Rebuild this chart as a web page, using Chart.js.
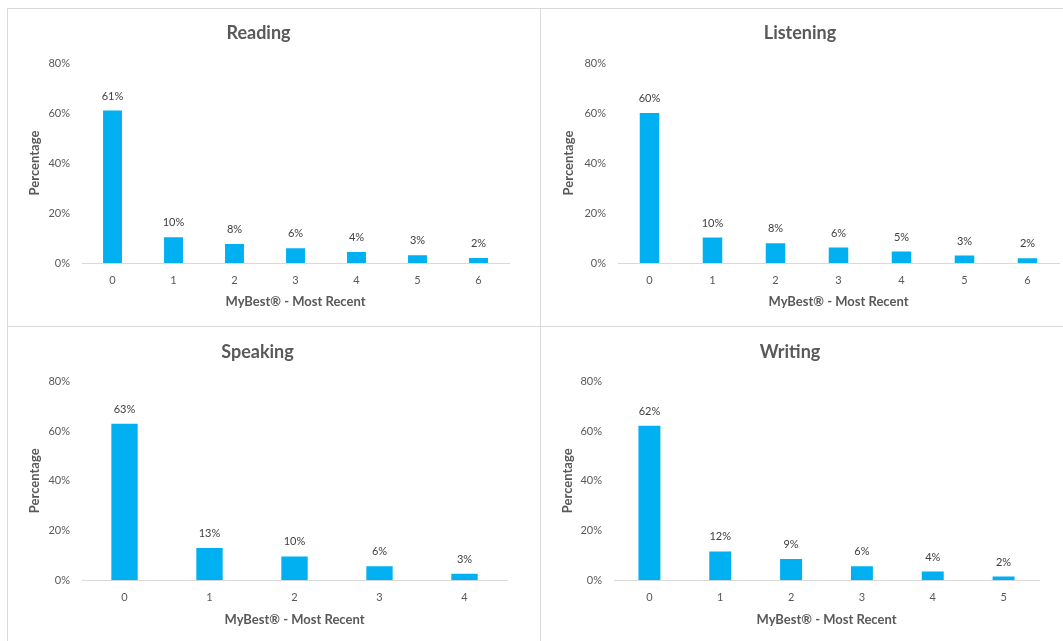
<!DOCTYPE html>
<html>
<head>
<meta charset="utf-8">
<script src="https://cdn.jsdelivr.net/npm/chart.js@4"></script>
<style>
  html, body { margin: 0; padding: 0; background: #fff; width: 1063px; height: 641px; overflow: hidden; }
  .panel { position: absolute; box-sizing: border-box; border-top: 1px solid #d9d9d9; border-left: 1px solid #d9d9d9; background: #fff; }
  .panel canvas { position: absolute; left: 0; top: 0; }
</style>
</head>
<body>
<div class="panel" id="pReading"   style="left:7px;  top:8px;   width:534px; height:319px;"><canvas id="cReading"></canvas></div>
<div class="panel" id="pListening" style="left:540px;top:8px;   width:523px; height:319px;"><canvas id="cListening"></canvas></div>
<div class="panel" id="pSpeaking"  style="left:7px;  top:326px; width:534px; height:319px;"><canvas id="cSpeaking"></canvas></div>
<div class="panel" id="pWriting"   style="left:540px;top:326px; width:523px; height:319px;"><canvas id="cWriting"></canvas></div>
<script>
'use strict';

// values (labels above bars are rounded)
const readingLevels   = ['0', '1', '2', '3', '4', '5', '6'];
const readingValues   = [61, 10.3, 7.6, 5.9, 4.4, 3.1, 2.0];

const listeningLevels = ['0', '1', '2', '3', '4', '5', '6'];
const listeningValues = [60.0, 10.2, 7.9, 6.2, 4.6, 3.0, 1.9];

const speakingLevels  = ['0', '1', '2', '3', '4'];
const speakingValues  = [62.9, 13.0, 9.6, 5.6, 2.6];

const writingLevels   = ['0', '1', '2', '3', '4', '5'];
const writingValues   = [62.1, 11.6, 8.6, 5.6, 3.5, 1.5];

const yTicks = [0, 20, 40, 60, 80];

const xTitle = 'MyBest® - Most Recent';
const yTitle = 'Percentage';

const FONT = 'Lato, "Open Sans", sans-serif';
const barColor = '#00B0F0';

// bar value labels, drawn above each bar
const barLabels = {
  id: 'barLabels',
  afterDatasetsDraw(chart) {
    const ctx = chart.ctx;
    const ds = chart.data.datasets[0];
    const meta = chart.getDatasetMeta(0);
    ctx.save();
    ctx.font = '11px ' + FONT;
    ctx.fillStyle = '#404040';
    ctx.textAlign = 'center';
    ctx.textBaseline = 'middle';
    meta.data.forEach((bar, i) => {
      ctx.fillText(Math.round(ds.data[i]) + '%', bar.x, bar.y - 14.5);
    });
    ctx.restore();
  }
};

function makeChart(id, title, levels, values, box) {
  const canvas = document.getElementById(id);
  canvas.width = box.w;
  canvas.height = box.h;
  canvas.style.width = box.w + 'px';
  canvas.style.height = box.h + 'px';

  return new Chart(canvas.getContext('2d'), {
    type: 'bar',
    data: {
      labels: levels,
      datasets: [{
        data: values,
        backgroundColor: barColor,
        borderWidth: 0,
        categoryPercentage: 1,
        barPercentage: 0.31,
      }],
    },
    plugins: [barLabels],
    options: {
      responsive: false,
      animation: false,
      devicePixelRatio: 1,
      layout: { padding: { left: 0, right: box.padRight, top: 0, bottom: box.padBottom } },
      plugins: {
        legend: { display: false },
        tooltip: { enabled: false },
        title: {
          display: true,
          text: title,
          color: '#595959',
          font: { family: FONT, size: 18, weight: 'bold' },
          padding: { top: box.titleTop, bottom: box.titleBottom },
        },
      },
      scales: {
        x: {
          grid: { display: false, drawTicks: false },
          border: { display: true, color: '#d9d9d9', width: 1 },
          ticks: { color: '#595959', font: { family: FONT, size: 11 }, padding: 11 },
          title: {
            display: true,
            text: xTitle,
            color: '#595959',
            font: { family: FONT, size: 13, weight: 'bold' },
            padding: { top: 0, bottom: 3 },
          },
          afterFit: (scale) => { scale.height = 50; },
        },
        y: {
          min: yTicks[0],
          max: yTicks[yTicks.length - 1],
          grid: { display: false, drawTicks: false },
          border: { display: false },
          ticks: {
            stepSize: yTicks[1] - yTicks[0],
            color: '#595959',
            font: { family: FONT, size: 11 },
            padding: 12,
            callback: (v) => v + '%',
          },
          title: {
            display: true,
            text: yTitle,
            color: '#595959',
            font: { family: FONT, size: 13, weight: 'bold' },
            padding: { top: box.yTitlePad, bottom: 0 },
          },
          afterFit: (scale) => { scale.width = box.yWidth; },
        },
      },
    },
  });
}

document.addEventListener('DOMContentLoaded', () => {
  makeChart('cReading', 'Reading', readingLevels, readingValues,
    { w: 533, h: 318, yWidth: 74, padRight: 32, padBottom: 14, titleTop: 13, titleBottom: 19.4, yTitlePad: 19 });
  makeChart('cListening', 'Listening', listeningLevels, listeningValues,
    { w: 522, h: 318, yWidth: 77, padRight: 4, padBottom: 14, titleTop: 13, titleBottom: 19.4, yTitlePad: 20 });
  makeChart('cSpeaking', 'Speaking', speakingLevels, speakingValues,
    { w: 533, h: 318, yWidth: 74, padRight: 34, padBottom: 14.7, titleTop: 14, titleBottom: 18.7, yTitlePad: 19 });
  makeChart('cWriting', 'Writing', writingLevels, writingValues,
    { w: 522, h: 318, yWidth: 73, padRight: 24, padBottom: 14.7, titleTop: 14, titleBottom: 18.7, yTitlePad: 19 });
});
</script>
</body>
</html>
